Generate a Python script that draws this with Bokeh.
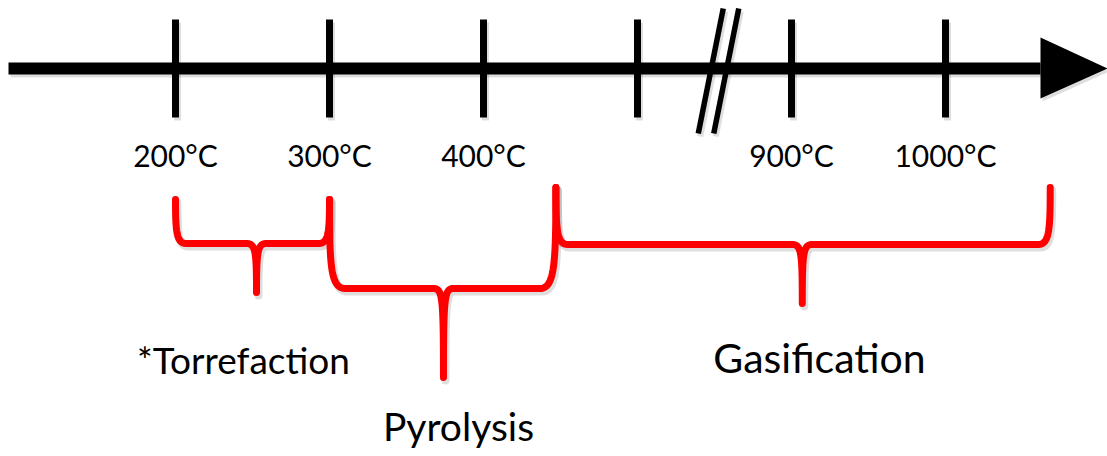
import numpy as np
from bokeh.plotting import figure
from bokeh.models import Range1d
from bokeh.core.properties import value
from bokeh.embed import file_html
from bokeh.resources import INLINE

# ---------------- data ----------------
tick_labels = ["200°C", "300°C", "400°C", "", "900°C", "1000°C"]
tick_slots = [0, 1, 2, 3, 4, 5]          # evenly spaced axis slots (axis is broken between slot 3 and 4)
break_slot = 3.526                        # position of the // axis break
process_names = ["*Torrefaction", "Pyrolysis", "Gasification"]
brace_start = [0.0, 1.0, 2.47]            # range covered by each process, in axis slots
brace_end = [1.0, 2.47, 5.68]
brace_mid = [0.526, 1.74, 4.07]

# ---------------- layout (pixels) ----------------
PX0, STEP = 175.0, 154.0                  # pixel of slot 0, pixels per slot
def sl(px):
    return (px - PX0) / STEP
def px(s):
    return PX0 + s * STEP

W, H = 1107, 456
AXIS_Y = 68
TICK_LABEL_Y = 154
brace_top_l = [199, 199, 187]
brace_top_r = [199, 187, 187]
brace_level = [243, 288, 244]
brace_tip = [292, 377, 303]
brace_arm_r = [11, 16, 12]
label_x_px = [243, 458, 819]
label_y_px = [359, 425, 357]
label_size = ["37px", "39px", "41px"]

p = figure(width=W, height=H, x_range=Range1d(sl(0), sl(W)), y_range=Range1d(H, 0),
           output_backend="svg", toolbar_location=None, min_border=0)
p.axis.visible = False
p.grid.visible = False
p.outline_line_color = None
p.background_fill_color = "white"

def bez(p0, p1, p2, p3, n=40):
    t = np.linspace(0, 1, n)[:, None]
    pts = ((1 - t) ** 3) * np.array(p0) + 3 * ((1 - t) ** 2) * t * np.array(p1) \
        + 3 * (1 - t) * t ** 2 * np.array(p2) + t ** 3 * np.array(p3)
    return pts

def brace_path(i):
    xa, xb, xm = px(brace_start[i]), px(brace_end[i]), px(brace_mid[i])
    ya, yb, yh, yt, r = brace_top_l[i], brace_top_r[i], brace_level[i], brace_tip[i], brace_arm_r[i]
    rm = 10
    segs = [
        bez((xa, ya), (xa, ya + 0.75 * (yh - ya)), (xa + 1, yh), (xa + r, yh)),
        bez((xm - rm, yh), (xm - 1, yh), (xm, yh + 8), (xm, yt)),
        bez((xm, yt), (xm, yh + 8), (xm + 1, yh), (xm + rm, yh)),
        bez((xb - r, yh), (xb - 1, yh), (xb, yb + 0.75 * (yh - yb)), (xb, yb)),
    ]
    pts = np.vstack(segs)
    return [sl(v) for v in pts[:, 0]], list(pts[:, 1])

# shadow offsets
dx, dy = 2.0 / STEP, 3.0
SH = dict(line_color="black", line_alpha=0.13)

# ---- axis line ----
ax_x = [sl(8), sl(1040)]
p.line([v + dx for v in ax_x], [AXIS_Y + dy] * 2, line_width=12, **SH)
p.line(ax_x, [AXIS_Y] * 2, line_width=12, line_color="black")

# ---- ticks ----
p.segment(x0=[s + dx for s in tick_slots], y0=19 + dy, x1=[s + dx for s in tick_slots], y1=117 + dy,
          line_width=7, **SH)
p.segment(x0=tick_slots, y0=19, x1=tick_slots, y1=117, line_width=7, line_color="black")

# ---- axis break // ----
bc = px(break_slot)
cxs = [bc - 7.75, bc + 7.75]
bx0 = [sl(c + 12.5) for c in cxs]
bx1 = [sl(c - 12.5) for c in cxs]
p.segment(x0=[v + dx for v in bx0], y0=8 + dy, x1=[v + dx for v in bx1], y1=133 + dy, line_width=6, **SH)
p.segment(x0=bx0, y0=8, x1=bx1, y1=133, line_width=5.5, line_color="black")

# ---- arrow head ----
ah_x = [sl(1040), sl(1107), sl(1040)]
ah_y = [37, AXIS_Y, 98]
p.patch([v + dx for v in ah_x], [v + dy for v in ah_y], fill_color="black", fill_alpha=0.13, line_color=None)
p.patch(ah_x, ah_y, fill_color="black", line_color=None)

# ---- tick labels ----
lab_x = [s for s, t in zip(tick_slots, tick_labels) if t]
lab_t = [t for t in tick_labels if t]
p.text(x=lab_x, y=[TICK_LABEL_Y] * len(lab_x), text=lab_t, text_font=value("Lato"),
       text_font_size=value("30px"), text_align="center", text_baseline="alphabetic", text_color="black")

# ---- braces ----
for i in range(len(process_names)):
    xs, ys = brace_path(i)
    p.line([v + dx for v in xs], [v + dy for v in ys], line_width=8, line_join="round", line_cap="round", **SH)
    p.line(xs, ys, line_width=7, line_color="#ff0000", line_join="round", line_cap="round")

# ---- process labels ----
for i, name in enumerate(process_names):
    p.text(x=[sl(label_x_px[i])], y=[label_y_px[i]], text=[name], text_font=value("Lato"),
           text_font_size=value(label_size[i]), text_align="center", text_baseline="alphabetic",
           text_color="black")

open("out.html", "w").write(file_html(p, INLINE))
